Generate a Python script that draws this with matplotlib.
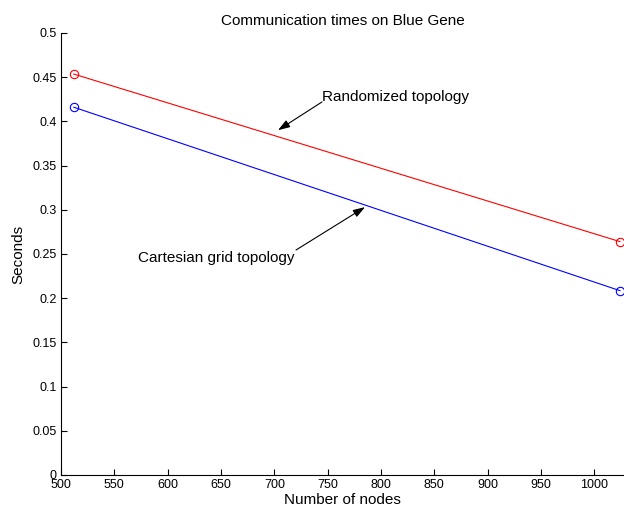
import numpy as np
import matplotlib.pyplot as plt

plt.rcParams['font.family'] = ['Liberation Sans', 'DejaVu Sans']

# --- data ---
nodes = [512, 1024]
random_topo = [0.4535, 0.264]
cartesian_topo = [0.416, 0.2085]

xticks = np.arange(500, 1001, 50)
yticks = np.arange(0, 0.501, 0.05)
ytick_labels = ['0', '0.05', '0.1', '0.15', '0.2', '0.25', '0.3', '0.35', '0.4', '0.45', '0.5']

fig = plt.figure(figsize=(6.24, 5.12), dpi=100)
ax = fig.add_axes([0.0978, 0.0723, 0.9022, 0.8633])

ax.plot(nodes, random_topo, color='red', lw=0.8, marker='o', ms=6,
        mfc='none', mew=0.8, clip_on=False)
ax.plot(nodes, cartesian_topo, color='blue', lw=0.8, marker='o', ms=6,
        mfc='none', mew=0.8, clip_on=False)

ax.set_xlim(500, 1027.8)
ax.set_ylim(0, 0.5)
ax.set_xticks(xticks)
ax.set_xticklabels([str(v) for v in xticks])
ax.set_yticks(yticks)
ax.set_yticklabels(ytick_labels)
ax.tick_params(direction='in', length=4, width=0.8, labelsize=9, pad=3)

for s in ['top', 'right']:
    ax.spines[s].set_visible(False)
for s in ['left', 'bottom']:
    ax.spines[s].set_linewidth(0.8)

ax.set_title('Communication times on Blue Gene', fontsize=11, pad=6)
ax.set_xlabel('Number of nodes', fontsize=11, labelpad=1)
ax.set_ylabel('Seconds', fontsize=11, labelpad=5)

# annotations with arrows
arrow = dict(arrowstyle='-|>,head_length=0.6,head_width=0.2', color='black',
             lw=0.8, mutation_scale=12, shrinkA=0, shrinkB=0)
ax.annotate('', xy=(703.4, 0.390), xytext=(744.7, 0.422), arrowprops=arrow)
ax.text(745, 0.428, 'Randomized topology', fontsize=11, ha='left', va='center')
ax.annotate('', xy=(785, 0.303), xytext=(720.3, 0.2545), arrowprops=arrow)
ax.text(572.2, 0.2455, 'Cartesian grid topology', fontsize=11, ha='left', va='center')

fig.savefig('out.png', dpi=100)
